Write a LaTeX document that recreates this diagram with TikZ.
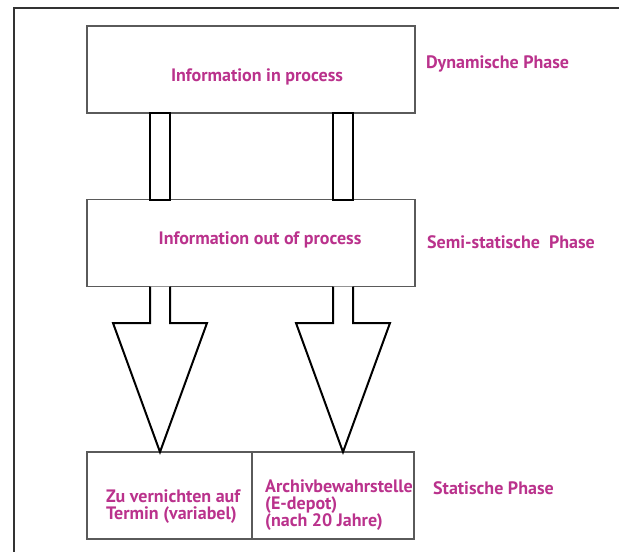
\documentclass[tikz,border=0pt]{standalone}
\usepackage{fontspec}
\setmainfont{PT Sans}
\usetikzlibrary{positioning}
\definecolor{phasepink}{RGB}{186,50,140}
\definecolor{boxgray}{RGB}{90,90,90}

\begin{document}
\begin{tikzpicture}[x=1pt,y=-1pt,
  box/.style={draw=boxgray,line width=1.3pt,minimum height=87pt,inner sep=0pt,outer sep=0pt},
  txt/.style={text=phasepink,font=\bfseries\fontsize{18}{17}\selectfont,inner sep=0pt,align=left},
  flow/.style={draw=black,line width=2pt,fill=white}]
\useasboundingbox (0,0) rectangle (619,552);
\draw[black!80,line width=1.3pt] (14,552) -- (14,8) -- (619,8);
% boxes
\node[box,minimum width=328pt] (dyn) at (251,69.5) {};
\node[box,minimum width=328pt] (semi) at (251,243) {};
\node[box,minimum width=165pt] (vern) at (169.5,495.5) {};
\node[box,minimum width=162pt] (arch) at (333,495.5) {};
% texts
\node[txt] (dyntxt) at (257,77) {Information in process};
\node[txt] (semitxt) at (260,240) {Information out of process};
\node[txt,anchor=west] (verntxt) at (106,507) {Zu vernichten auf\\Termin (variabel)};
\node[txt,anchor=west] (archtxt) at (265,505) {Archivbewahrstelle\\(E-depot)\\(nach 20 Jahre)};
\node[txt,anchor=west] (dynlbl) at (426,64) {Dynamische Phase};
\node[txt,anchor=west] (semilbl) at (427,242) {Semi-statische~~Phase};
\node[txt,anchor=west] (statlbl) at (433,488) {Statische Phase};
% flows
\draw[flow] (150,0 |- dyn.south) rectangle (170,0 |- semi.north);
\draw[flow] (333,0 |- dyn.south) rectangle (353,0 |- semi.north);
\draw[flow] (150,0 |- semi.south) -- (150,323) -- (113,323) -- (160,0 |- vern.north)
  -- (207,323) -- (170,323) -- (170,0 |- semi.south);
\draw[flow] (333,0 |- semi.south) -- (333,323) -- (296,323) -- (343,0 |- arch.north)
  -- (390,323) -- (353,323) -- (353,0 |- semi.south);
\end{tikzpicture}
\end{document}
